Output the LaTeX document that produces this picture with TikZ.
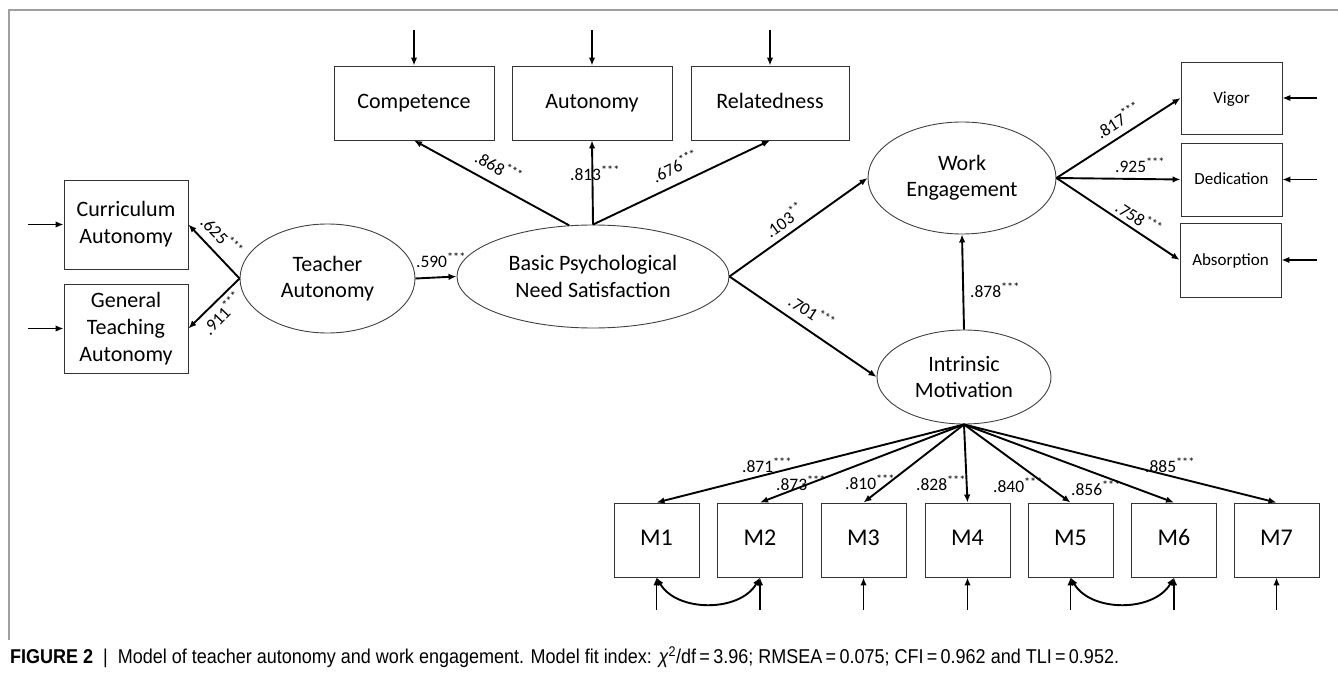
\documentclass[tikz,border=0pt]{standalone}
\usepackage{fontspec}
\setmainfont{Carlito}
\newfontfamily\capfont[FakeStretch=0.9]{Liberation Sans}
\usetikzlibrary{shapes.geometric}
\usetikzlibrary{arrows.meta}

\begin{document}
\begin{tikzpicture}[x=1pt, y=-1pt,
  box/.style={draw=black!80, line width=0.9pt, align=center, inner sep=0pt, font=\fontsize{22}{27}\selectfont},
  single/.style={text height=15pt, text depth=4pt},
  latent/.style={ellipse, draw=black!75, line width=0.9pt, align=center, inner sep=0pt, font=\fontsize{22}{26.5}\selectfont},
  lnk/.style={-{Latex[length=8pt,width=6.5pt]}, line width=1.9pt},
  lbl/.style={inner sep=0pt, font=\fontsize{17.5}{20}\selectfont}
]
\useasboundingbox (0,0) rectangle (1338,676);

% frame
\draw[gray!75, line width=1.2pt] (8,10) -- (1338,10);
\draw[gray!75, line width=1.2pt] (9,10) -- (9,640);

% latent variables
{
\node[latent, minimum width=175, minimum height=109] (ta) at (327.5,278.5) {Teacher\\Autonomy};
\node[latent, minimum width=272, minimum height=103] (bpns) at (593,276.5) {Basic Psychological\\Need Satisfaction};
\node[latent, minimum width=188, minimum height=112] (we) at (962,178) {Work\\Engagement};
\node[latent, minimum width=174, minimum height=94] (im) at (964,377) {Intrinsic\\Motivation};
}

% indicators
{
\node[box, minimum width=124, minimum height=89] (curr) at (126,224.5) {Curriculum\\Autonomy};
\node[box, minimum width=124, minimum height=89] (gen) at (126,328.5) {General\\Teaching\\Autonomy};

\node[box, single, minimum width=160, minimum height=74] (comp) at (414,103) {Competence};
\node[box, single, minimum width=160, minimum height=74] (aut) at (592,103) {Autonomy};
\node[box, single, minimum width=158, minimum height=74] (rel) at (770,103) {Relatedness};

\node[box, single, minimum width=101, minimum height=72, font=\fontsize{17}{20}\selectfont] (vig) at (1231.5,98) {Vigor};
\node[box, single, minimum width=101, minimum height=73, font=\fontsize{17}{20}\selectfont] (ded) at (1231.5,179.5) {Dedication};
\node[box, single, minimum width=101, minimum height=74, font=\fontsize{17}{20}\selectfont] (abs) at (1230.5,260) {Absorption};

\node[box, single, minimum width=85, minimum height=74, font=\fontsize{24}{28}\selectfont] (m1) at (656.5,540) {M1};
\node[box, single, minimum width=85, minimum height=74, font=\fontsize{24}{28}\selectfont] (m2) at (760,540) {M2};
\node[box, single, minimum width=85, minimum height=74, font=\fontsize{24}{28}\selectfont] (m3) at (863.5,540) {M3};
\node[box, single, minimum width=85, minimum height=74, font=\fontsize{24}{28}\selectfont] (m4) at (967.5,540) {M4};
\node[box, single, minimum width=85, minimum height=74, font=\fontsize{24}{28}\selectfont] (m5) at (1070.5,540) {M5};
\node[box, single, minimum width=85, minimum height=74, font=\fontsize{24}{28}\selectfont] (m6) at (1174,540) {M6};
\node[box, single, minimum width=85, minimum height=74, font=\fontsize{24}{28}\selectfont] (m7) at (1276.5,540) {M7};
}

% error terms
{
\coordinate (ecurr) at (28,224.5);
\coordinate (egen) at (28,328.5);
\coordinate (ecomp) at (414,30);
\coordinate (eaut) at (592,30);
\coordinate (erel) at (770,30);
\coordinate (evig) at (1317,98);
\coordinate (eded) at (1317,179.5);
\coordinate (eabs) at (1317,260);
\coordinate (em1) at (656.5,610);
\coordinate (em2) at (760,610);
\coordinate (em3) at (863.5,610);
\coordinate (em4) at (967.5,610);
\coordinate (em5) at (1070.5,610);
\coordinate (em6) at (1174,610);
\coordinate (em7) at (1276.5,610);

\draw[lnk] (ecurr) -- (curr);
\draw[lnk] (egen) -- (gen);
\draw[lnk] (ecomp) -- (comp);
\draw[lnk] (eaut) -- (aut);
\draw[lnk] (erel) -- (rel);
\draw[lnk] (evig) -- (vig);
\draw[lnk] (eded) -- (ded);
\draw[lnk] (eabs) -- (abs);
\draw[lnk] (em1) -- (m1);
\draw[lnk] (em2) -- (m2);
\draw[lnk] (em3) -- (m3);
\draw[lnk] (em4) -- (m4);
\draw[lnk] (em5) -- (m5);
\draw[lnk] (em6) -- (m6);
\draw[lnk] (em7) -- (m7);

\draw[lnk, {Latex[length=8pt,width=6.5pt]}-{Latex[length=8pt,width=6.5pt]}] (m1.south) to[out=-60, in=-120] (m2.south);
\draw[lnk, {Latex[length=8pt,width=6.5pt]}-{Latex[length=8pt,width=6.5pt]}] (m5.south) to[out=-60, in=-120] (m6.south);
}

% paths
{
\draw[lnk] (ta.west) -- (curr.east);
\draw[lnk] (ta.west) -- (gen.east);
\draw[lnk] (ta.east) -- (bpns.west);

\draw[lnk] (bpns.115) -- (comp.south);
\draw[lnk] (bpns.north) -- (aut.south);
\draw[lnk] (bpns.north) -- (rel.south);

\draw[lnk] (bpns.east) -- (we.west);
\draw[lnk] (bpns.east) -- (im.west);
\draw[lnk] (im.north) -- (we.south);

\draw[lnk] (we.east) -- (vig.west);
\draw[lnk] (we.east) -- (ded.west);
\draw[lnk] (we.east) -- (abs.west);

\draw[lnk] (im.south) -- (m1.north);
\draw[lnk] (im.south) -- (m2.north);
\draw[lnk] (im.south) -- (m3.north);
\draw[lnk] (im.south) -- (m4.north);
\draw[lnk] (im.south) -- (m5.north);
\draw[lnk] (im.south) -- (m6.north);
\draw[lnk] (im.south) -- (m7.north);
}

% loadings
{
\node[lbl, rotate=-46] (l625) at (222,236) {.625\textsuperscript{***}};
\node[lbl, rotate=46] (l911) at (222,313) {.911\textsuperscript{***}};
\node[lbl] (l590) at (441,260) {.590\textsuperscript{***}};

\node[lbl, rotate=-29] (l868) at (499,167) {.868\textsuperscript{***}};
\node[lbl] (l813) at (595,173) {.813\textsuperscript{***}};
\node[lbl, rotate=26] (l676) at (675,166) {.676\textsuperscript{***}};

\node[lbl, rotate=36] (l103) at (784,220) {.103\textsuperscript{**}};
\node[lbl, rotate=-33] (l701) at (812,312) {.701\textsuperscript{***}};
\node[lbl] (l878) at (995,290) {.878\textsuperscript{***}};

\node[lbl, rotate=32] (l817) at (1118,120) {.817\textsuperscript{***}};
\node[lbl] (l925) at (1140,165) {.925\textsuperscript{***}};
\node[lbl, rotate=-33] (l758) at (1139,218) {.758\textsuperscript{***}};

\node[lbl] (l871) at (767,465) {.871\textsuperscript{***}};
\node[lbl] (l873) at (801,483) {.873\textsuperscript{***}};
\node[lbl] (l810) at (870,482) {.810\textsuperscript{***}};
\node[lbl] (l828) at (941,483) {.828\textsuperscript{***}};
\node[lbl] (l840) at (1018,485) {.840\textsuperscript{***}};
\node[lbl] (l856) at (1096,488) {.856\textsuperscript{***}};
\node[lbl] (l885) at (1170,465) {.885\textsuperscript{***}};
}

% caption
\node[anchor=west, inner sep=0pt, font=\capfont\fontsize{20}{22}\selectfont] (cap) at (10,657)
{\textbf{FIGURE 2}\enspace|\enspace Model of teacher autonomy and work engagement. Model fit index: \textit{χ}\textsuperscript{2}/df\,=\,3.96; RMSEA\,=\,0.075; CFI\,=\,0.962 and TLI\,=\,0.952.};

\end{tikzpicture}
\end{document}
